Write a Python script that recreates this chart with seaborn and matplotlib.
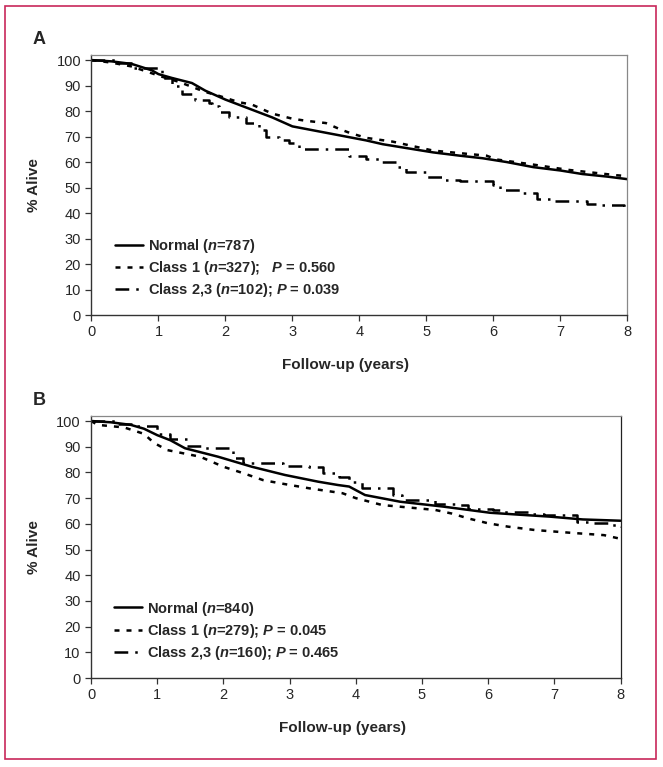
import pandas as pd
import seaborn as sns
import matplotlib.pyplot as plt
from matplotlib.patches import Rectangle

# Panel A - survival
a_t_normal = [0, 0.3, 0.6, 0.9, 1.0, 1.2, 1.5, 1.7, 2.0, 2.4, 2.7, 3.0, 3.4, 3.8, 4.1, 4.35, 4.7, 5.1, 5.5, 5.84, 6.2, 6.6, 7.0, 7.33, 7.7, 8.0]
a_s_normal = [100, 99.5, 98.5, 96, 94.5, 93, 91, 88, 84.5, 80.5, 77.5, 74, 72, 70, 68.5, 67, 65.5, 63.8, 62.5, 61.5, 60, 58, 56.7, 55.3, 54.3, 53.3]
a_t_class1 = [0, 0.3, 0.6, 1.05, 1.3, 1.7, 1.9, 2.2, 2.4, 2.7, 3.0, 3.2, 3.5, 3.7, 3.85, 4.1, 4.5, 5.1, 5.9, 6.05, 6.6, 7.1, 7.85, 8.0]
a_s_class1 = [100, 99, 97.5, 93.5, 91.5, 87.5, 86, 83.5, 82.5, 79, 77, 76.2, 75.3, 73, 71.5, 69.5, 68, 64.5, 62.5, 61, 59, 57, 54.8, 54.5]
a_t_class23 = [0, 0.4, 0.6, 1.05, 1.2, 1.35, 1.55, 1.75, 1.8, 1.9, 2.05, 2.3, 2.5, 2.6, 2.8, 2.95, 3.1, 3.85, 4.1, 4.3, 4.55, 4.7, 5.0, 5.25, 5.5, 6.0, 6.1, 6.45, 6.65, 6.9, 7.4, 7.6, 7.95, 8.0]
a_s_class23 = [100, 99, 97, 93, 90, 86.7, 84.3, 83, 82, 79.6, 77.6, 75.3, 72.5, 70, 68.6, 67.5, 65, 62.5, 61.2, 60, 58, 56.2, 54, 53, 52.5, 51, 49, 47.8, 45.5, 44.7, 43.6, 43, 42.3, 42.3]

# Panel B
b_t_normal = [0, 0.3, 0.6, 0.8, 1.0, 1.2, 1.42, 1.92, 2.43, 2.93, 3.43, 3.73, 3.9, 4.14, 4.67, 5.32, 6.03, 6.5, 6.93, 7.43, 8.0]
b_s_normal = [100, 99.5, 98.5, 97, 94.5, 92.5, 89.4, 86.1, 82.2, 79, 76.4, 75.1, 74.5, 71.2, 68.6, 66.7, 64.3, 63.5, 62.8, 61.7, 61.2]
b_t_class1 = [0, 0.1, 0.5, 0.8, 0.95, 1.15, 1.65, 2.0, 2.3, 2.6, 2.85, 3.3, 3.8, 4.0, 4.4, 5.2, 5.45, 5.7, 6.0, 6.3, 6.7, 7.25, 7.75, 7.96, 8.0]
b_s_class1 = [100, 98.5, 97.5, 95, 91.5, 88.7, 86.1, 82.2, 79.7, 77, 75.8, 73.8, 71.9, 70, 67.3, 65.4, 64, 62.1, 60.2, 58.9, 57.6, 56.5, 55.6, 54.4, 54.4]
b_t_class23 = [0, 0.4, 0.7, 1.0, 1.2, 1.45, 1.7, 2.15, 2.3, 2.7, 2.9, 3.3, 3.5, 3.75, 3.9, 4.1, 4.56, 4.7, 5.2, 5.5, 5.7, 6.07, 6.2, 6.6, 6.85, 7.35, 7.6, 7.85, 8.0]
b_s_class23 = [100, 99, 98, 95, 93, 90.3, 89.6, 85.6, 83.8, 83.5, 82.6, 82, 79.6, 78.1, 76.4, 73.8, 71.2, 69.3, 67.7, 67.3, 65.8, 65.4, 64.7, 64, 63.4, 60.8, 60.3, 59.5, 58.9]

a_labels = ["Normal ($n$=787)", "Class 1 ($n$=327);   $P$ = 0.560", "Class 2,3 ($n$=102); $P$ = 0.039"]
b_labels = ["Normal ($n$=840)", "Class 1 ($n$=279); $P$ = 0.045", "Class 2,3 ($n$=160); $P$ = 0.465"]

sns.set_style("ticks")
plt.rcParams['font.family'] = ['Liberation Sans', 'DejaVu Sans']
plt.rcParams['mathtext.fontset'] = 'custom'
plt.rcParams['mathtext.rm'] = 'Liberation Sans:bold'
plt.rcParams['mathtext.it'] = 'Liberation Sans:italic:bold'

styles = [("-", "default"), ((0, (2.0, 2.8)), "default"), ((0, (5.5, 2.8, 1.0, 2.8)), "steps-post")]

fig = plt.figure(figsize=(6.63, 7.67), dpi=100)
fig.patches.append(Rectangle((5 / 663, 1 - 759 / 767), 651 / 663, 753 / 767, transform=fig.transFigure,
                             fill=False, edgecolor="#c8285a", linewidth=1.2))

axA = fig.add_axes([0.138, 0.5893, 0.808, 0.339])
axB = fig.add_axes([0.1373, 0.116, 0.7986, 0.3418])


def draw_panel(ax, curves, labels, letter):
    for (t, s), (ls, ds), lab in zip(curves, styles, labels):
        df = pd.DataFrame({"t": t, "s": s})
        sns.lineplot(data=df, x="t", y="s", ax=ax, color="black", linewidth=1.8,
                     linestyle=ls, drawstyle=ds, estimator=None, label=lab)
    ax.set_xlim(0, 8)
    ax.set_ylim(0, 102)
    ax.set_xticks(range(0, 9))
    ax.set_yticks(range(0, 101, 10))
    ax.tick_params(direction="out", length=4, width=0.9, labelsize=10.5, color="#333333")
    for side in ["left", "bottom"]:
        ax.spines[side].set_color("#333333")
        ax.spines[side].set_linewidth(1.0)
    for side in ["top", "right"]:
        ax.spines[side].set_visible(True)
        ax.spines[side].set_color("#888888")
        ax.spines[side].set_linewidth(0.9)
    ax.set_xlabel("Follow-up (years)", fontsize=11, fontweight="bold")
    ax.xaxis.set_label_coords(0.475, -0.165)
    ax.set_ylabel("% Alive", fontsize=11, fontweight="bold")
    ax.yaxis.set_label_coords(-0.094, 0.5)
    ax.text(-0.11, 1.06, letter, transform=ax.transAxes, fontsize=13, fontweight="bold",
            ha="left", va="center")
    leg = ax.legend(loc="lower left", bbox_to_anchor=(0.033, 0.04), frameon=False,
                    handlelength=1.9, handletextpad=0.35, labelspacing=0.28,
                    prop={"weight": "bold", "size": 10.5}, borderaxespad=0)
    for h in leg.get_lines():
        h.set_linewidth(1.8)


draw_panel(axA, [(a_t_normal, a_s_normal), (a_t_class1, a_s_class1), (a_t_class23, a_s_class23)], a_labels, "A")
draw_panel(axB, [(b_t_normal, b_s_normal), (b_t_class1, b_s_class1), (b_t_class23, b_s_class23)], b_labels, "B")
axB.spines["right"].set_color("#222222")

fig.savefig("out.png", dpi=100)
